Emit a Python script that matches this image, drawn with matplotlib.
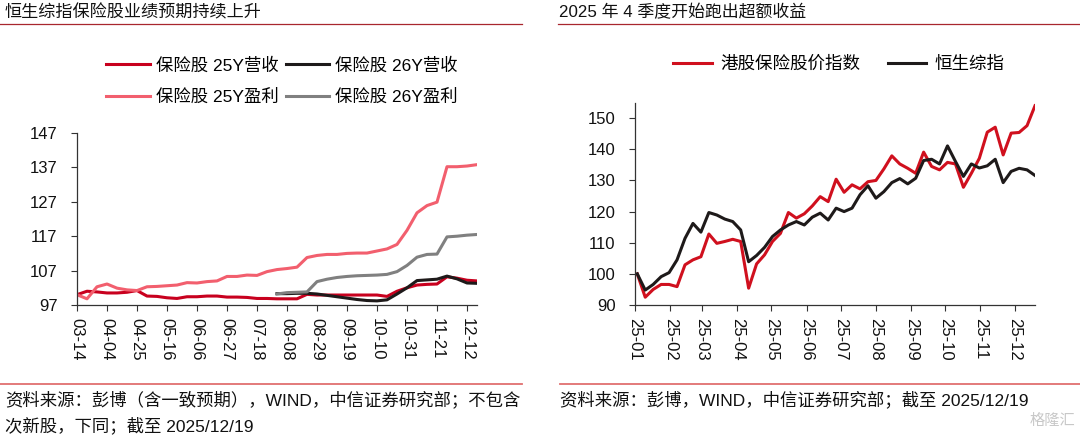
import numpy as np
import pandas as pd
import matplotlib
matplotlib.use('Agg')
import matplotlib.pyplot as plt
import matplotlib.dates as mdates
from matplotlib.lines import Line2D

plt.rcParams['font.family'] = ['Liberation Sans', 'Noto Sans CJK SC']
plt.rcParams['axes.unicode_minus'] = False

# left chart: weekly, normalised to 100 at 03-14
dates_l = pd.date_range('2025-03-14', '2025-12-19', freq='7D')
rev25 = [100, 101, 100.8, 100.5, 100.5, 100.7, 101.2, 99.6, 99.5, 99.1,
         98.9, 99.4, 99.4, 99.6, 99.6, 99.3, 99.3, 99.2, 98.9, 98.9,
         98.8, 98.8, 98.8, 100.1, 99.9, 99.9, 99.9, 99.9, 99.9, 99.9,
         99.9, 99.5, 101.0, 102.0, 102.8, 103.0, 103.1, 105.2, 104.8, 104.2,
         104.0]
prof25 = [100, 98.8, 102.3, 103.1, 101.9, 101.4, 101.2, 102.3, 102.4, 102.6,
          102.8, 103.5, 103.4, 103.8, 104.0, 105.3, 105.3, 105.7, 105.6, 106.7,
          107.3, 107.6, 108.0, 110.8, 111.4, 111.7, 111.7, 112.0, 112.1, 112.1,
          112.7, 113.3, 114.6, 118.7, 123.8, 125.9, 126.9, 137.2, 137.2, 137.4,
          137.8]
nan20 = [np.nan] * 20
rev26 = nan20 + [100.3, 100.3, 100.4, 100.4, 100.2, 99.8, 99.4, 99.0, 98.6, 98.3,
                 98.2, 98.5, 100.2, 102.0, 104.1, 104.3, 104.5, 105.4, 104.6, 103.4,
                 103.3]
prof26 = nan20 + [100.2, 100.6, 100.7, 100.8, 103.8, 104.5, 105.0, 105.3, 105.5, 105.6,
                  105.7, 105.9, 106.7, 108.5, 110.9, 111.7, 111.8, 116.8, 117.0, 117.3,
                  117.5]

# right chart: weekly 2025
dates_r = pd.date_range('2025-01-03', '2025-12-19', freq='7D')
ins_idx = [100, 92.5, 95.0, 96.6, 96.6, 95.9, 102.9, 104.5, 105.5, 112.8,
           109.8, 110.4, 111.1, 110.4, 95.4, 103.2, 106.1, 110.4, 113.0, 119.7,
           117.9, 119.3, 121.8, 124.8, 123.2, 130.4, 126.2, 128.6, 127.3, 129.6,
           130.0, 133.7, 137.9, 135.3, 133.9, 132.3, 139.1, 134.5, 133.4, 135.8,
           135.3, 127.8, 132.3, 137.1, 145.5, 147.1, 138.2, 145.2, 145.4, 147.6,
           154.0]
hsci = [100, 94.8, 96.6, 99.1, 100.4, 104.5, 111.4, 116.2, 113.4, 119.7,
        118.9, 117.6, 116.8, 114.1, 103.9, 105.9, 108.5, 112.0, 114.1, 115.7,
        116.8, 115.7, 118.2, 119.5, 117.3, 121.1, 120.0, 121.1, 125.4, 128.3,
        124.3, 126.4, 129.3, 130.6, 128.9, 130.7, 136.4, 136.8, 135.3, 141.1,
        136.1, 131.3, 135.3, 134.0, 134.7, 136.8, 129.3, 132.9, 133.9, 133.4,
        131.6]

c_red = '#C8001E'
c_pink = '#F25F6E'
c_black = '#1E1A1A'
c_gray = '#808080'
lw = 2.2

fig = plt.figure(figsize=(10.8, 4.38), dpi=100)
W, H = 1080.0, 438.0

ax1 = fig.add_axes([77 / W, 1 - 305 / H, 400 / W, 172 / H])
l1, = ax1.plot(dates_l, rev25, color=c_red, lw=lw)
l2, = ax1.plot(dates_l, rev26, color=c_black, lw=lw)
l3, = ax1.plot(dates_l, prof25, color=c_pink, lw=lw)
l4, = ax1.plot(dates_l, prof26, color=c_gray, lw=lw)
ax1.set_xlim(dates_l[0], dates_l[-1])
ax1.set_ylim(97, 147)
ax1.set_yticks(np.arange(97, 148, 10))
ax1.set_xticks(dates_l[::3])
ax1.xaxis.set_major_formatter(mdates.DateFormatter('%m-%d'))

ax2 = fig.add_axes([635 / W, 1 - 305 / H, 400 / W, 202.4 / H])
r1, = ax2.plot(dates_r, ins_idx, color='#D0101E', lw=lw)
r2, = ax2.plot(dates_r, hsci, color=c_black, lw=lw)
ax2.set_xlim(pd.Timestamp('2025-01-01'), dates_r[-1])
ax2.set_ylim(90, 155)
ax2.set_yticks(np.arange(90, 151, 10))
ax2.set_xticks(pd.date_range('2025-01-01', '2025-12-01', freq='MS'))
ax2.xaxis.set_major_formatter(mdates.DateFormatter('%y-%m'))

for ax in (ax1, ax2):
    for s in ('top', 'right'):
        ax.spines[s].set_visible(False)
    for s in ('left', 'bottom'):
        ax.spines[s].set_color('#333333')
        ax.spines[s].set_linewidth(0.9)
    ax.tick_params(axis='both', direction='out', length=4, width=0.8,
                   color='#333333', labelcolor='#111111')
    ax.tick_params(axis='y', labelsize=12, pad=10)
    ax.tick_params(axis='x', labelsize=12, pad=5)
    for t in ax.get_xticklabels():
        t.set_rotation(270)

# legends
fig.legend([l1, l3, l2, l4],
           ['保险股 25Y营收', '保险股 25Y盈利', '保险股 26Y营收', '保险股 26Y盈利'],
           loc='center', bbox_to_anchor=(282 / W, 1 - 81 / H), ncol=2,
           frameon=False, fontsize=12.5, handlelength=2.5, handletextpad=0.35,
           columnspacing=0.4, labelspacing=0.9)
fig.legend([r1, r2], ['港股保险股价指数', '恒生综指'],
           loc='center', bbox_to_anchor=(839 / W, 1 - 64 / H), ncol=2,
           frameon=False, fontsize=12.6, handlelength=2.2, handletextpad=0.5,
           columnspacing=1.55)

# titles and rules
fig.text(5 / W, 1 - 12 / H, '恒生综指保险股业绩预期持续上升', fontsize=12.3,
         va='center', ha='left', color='#111111')
fig.text(559 / W, 1 - 12 / H, '2025 年 4 季度开始跑出超额收益', fontsize=12.2,
         va='center', ha='left', color='#111111')
fig.add_artist(Line2D([0, 522 / W], [1 - 24 / H] * 2, color='#A8262E', lw=0.9))
fig.add_artist(Line2D([558 / W, 1], [1 - 24 / H] * 2, color='#A8262E', lw=0.9))
fig.add_artist(Line2D([0, 522 / W], [1 - 384 / H] * 2, color='#E07070', lw=1.3))
fig.add_artist(Line2D([560 / W, 1], [1 - 384 / H] * 2, color='#E07070', lw=1.3))

fig.text(5 / W, 1 - 399 / H, '资料来源：彭博（含一致预期），WIND，中信证券研究部；不包含',
         fontsize=12.5, va='center', ha='left', color='#111111')
fig.text(5 / W, 1 - 425 / H, '次新股，下同；截至 2025/12/19',
         fontsize=12.5, va='center', ha='left', color='#111111')
fig.text(560 / W, 1 - 399 / H, '资料来源：彭博，WIND，中信证券研究部；截至 2025/12/19',
         fontsize=12.5, va='center', ha='left', color='#111111')
fig.text(1075 / W, 1 - 421 / H, '格隆汇', fontsize=11, va='center', ha='right',
         color='#C8C8C8')

fig.savefig('out.png', dpi=100)
